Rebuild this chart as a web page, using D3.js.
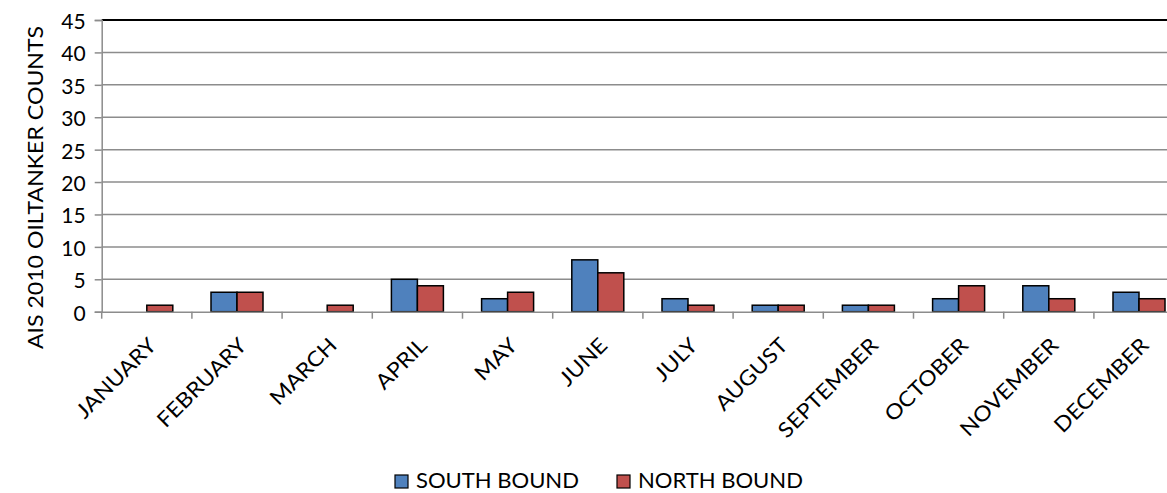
<!DOCTYPE html>
<html><head><meta charset="utf-8">
<script src="https://cdn.jsdelivr.net/npm/d3@7"></script>
<style>body{margin:0;background:#fff;} svg{display:block;font-family:Lato,"Open Sans",sans-serif;}</style>
</head><body>
<svg id="c" width="1167" height="493"></svg>
<script>
const months = ["JANUARY","FEBRUARY","MARCH","APRIL","MAY","JUNE","JULY","AUGUST","SEPTEMBER","OCTOBER","NOVEMBER","DECEMBER"];
const southBound = [0,3,0,5,2,8,2,1,1,2,4,3];
const northBound = [1,3,1,4,3,6,1,1,1,4,2,2];
const seriesNames = ["SOUTH BOUND","NORTH BOUND"];
const seriesColors = ["#4F81BD","#C0504D"];
const yTicks = [0,5,10,15,20,25,30,35,40,45];

(function(){
const FS = 21;
const svg = d3.select("#c");
const pLeft = 101.7, pTop = 20, pBottom = 311.7, step = 90.2;
const pRight = pLeft + step*months.length;
const x = d3.scaleBand().domain(months).range([pLeft,pRight]).padding(0);
const y = d3.scaleLinear().domain([0,45]).range([pBottom,pTop]);
const groupW = 52;
const xs = d3.scaleBand().domain(seriesNames).range([0,groupW]).padding(0);

svg.append("g").selectAll("line").data(yTicks.filter(d=>d>0 && d<45)).join("line")
  .attr("x1",pLeft).attr("x2",pRight).attr("y1",d=>y(d)).attr("y2",d=>y(d))
  .attr("stroke","#8c8c8c").attr("stroke-width",1.5);
svg.append("line").attr("x1",pLeft).attr("x2",pRight).attr("y1",y(45)).attr("y2",y(45))
  .attr("stroke","#000").attr("stroke-width",2);

const yAxis = d3.axisLeft(y).tickValues(yTicks).tickSize(7).tickPadding(9);
const gy = svg.append("g").attr("transform",`translate(${pLeft},0)`).call(yAxis);
gy.select(".domain").attr("stroke","#8c8c8c").attr("stroke-width",1.5);
gy.selectAll(".tick line").attr("stroke","#8c8c8c").attr("stroke-width",1.5);
gy.selectAll("text").attr("font-size",FS).attr("font-family","Lato").attr("fill","#000").attr("dy","0.4em");

const data = months.map((m,i)=>({m, vals:[southBound[i],northBound[i]]}));
const g = svg.append("g");
data.forEach(d=>{
  const x0 = x(d.m) + (x.bandwidth()-groupW)/2;
  d.vals.forEach((v,j)=>{
    if (v<=0) return;
    g.append("rect").attr("x",x0+xs(seriesNames[j])).attr("y",y(v))
      .attr("width",xs.bandwidth()).attr("height",y(0)-y(v))
      .attr("fill",seriesColors[j]).attr("stroke","#000").attr("stroke-width",1.5);
  });
});

const xAxis = d3.axisBottom(x).tickSize(0).tickFormat("");
const gx = svg.append("g").attr("transform",`translate(0,${pBottom})`).call(xAxis);
gx.select(".domain").attr("stroke","#8c8c8c").attr("stroke-width",1.5);
gx.selectAll(".tick").remove();
svg.append("g").selectAll("line").data(d3.range(months.length+1)).join("line")
  .attr("x1",i=>pLeft+i*x.step()).attr("x2",i=>pLeft+i*x.step())
  .attr("y1",pBottom).attr("y2",pBottom+7).attr("stroke","#8c8c8c").attr("stroke-width",1.5);
svg.append("g").selectAll("text").data(months).join("text")
  .attr("transform",d=>`translate(${x(d)+x.bandwidth()/2+11},${pBottom+35}) rotate(-45) scale(1.1,1)`)
  .attr("text-anchor","end").attr("font-size",FS).attr("font-family","Lato").text(d=>d);

svg.append("text").attr("transform",`translate(43,187.5) rotate(-90) scale(1.1,1)`)
  .attr("text-anchor","middle").attr("font-size",FS).attr("font-family","Lato").text("AIS 2010 OILTANKER COUNTS");

const legX = [395, 617];
seriesNames.forEach((n,j)=>{
  svg.append("rect").attr("x",legX[j]).attr("y",475).attr("width",13).attr("height",13)
    .attr("fill",seriesColors[j]).attr("stroke","#000").attr("stroke-width",1.2);
  svg.append("text").attr("transform",`translate(${legX[j]+21},488) scale(1.05,1)`).attr("font-size",FS)
    .attr("font-family","Lato").text(n);
});
})();
</script>
</body></html>
